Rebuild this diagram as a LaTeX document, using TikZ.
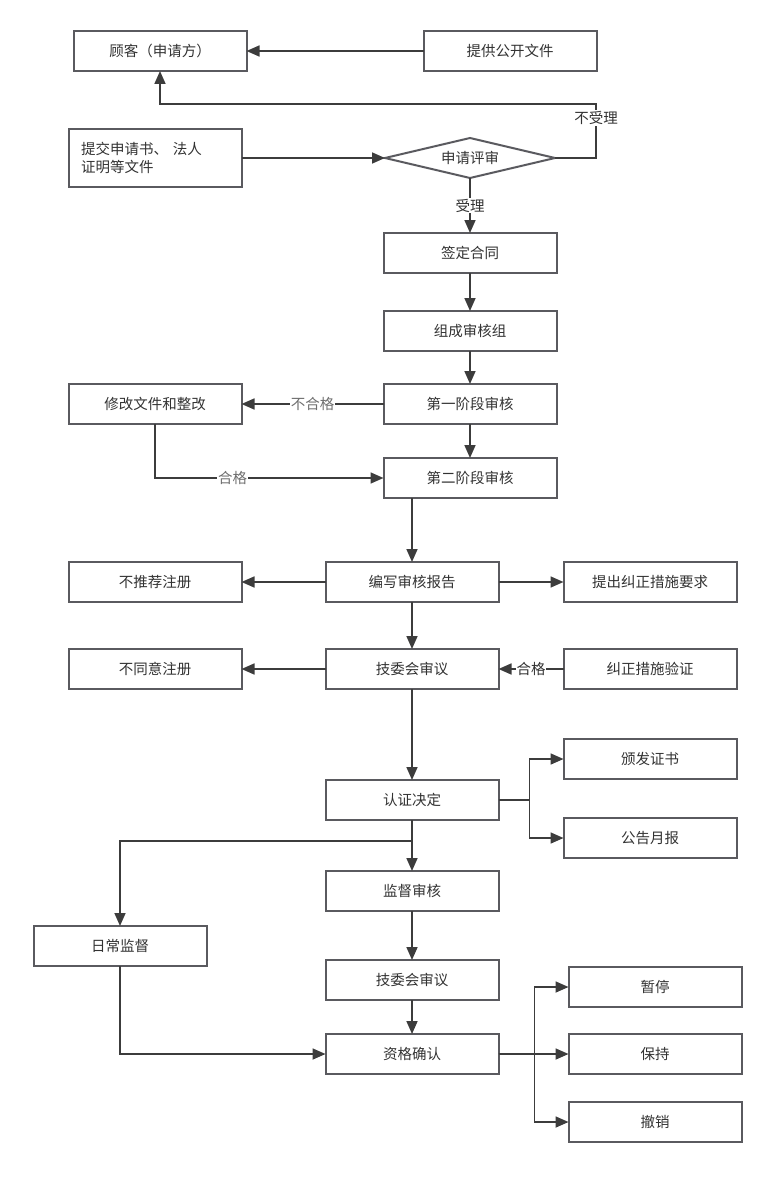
\documentclass[tikz,border=0pt]{standalone}
\usepackage{fontspec}
\usepackage{tikz}
\usetikzlibrary{arrows.meta,positioning,shapes.geometric}
\newfontfamily\cjk{Noto Sans CJK SC}
\definecolor{linegray}{RGB}{60,60,60}
\definecolor{boxgray} {RGB}{90,90,95}
\definecolor{textgray}{RGB}{50,50,50}
\definecolor{labelgray}{RGB}{110,110,110}

\begin{document}
\begin{tikzpicture}[
    x=1pt, y=-1pt,
    node distance=38pt and 65pt,
    every node/.style={font=\cjk\fontsize{14.5}{18}\selectfont, text=textgray},
    stage/.style={draw=boxgray, rectangle, line width=2pt, outer sep=0pt, minimum width=173pt, minimum height=40pt, inner sep=2pt, align=center},
    decision/.style={draw=boxgray, diamond, line width=2pt, outer sep=0pt, aspect=4.2, minimum width=170pt, minimum height=40pt, inner sep=0pt},
    arrow/.style={-{Triangle[length=13pt,width=11pt]}, line width=1.7pt, draw=linegray},
    tag/.style={fill=white, inner sep=1pt}
]
    \useasboundingbox (0,0) rectangle (774,1177);

    % application
    \node[stage] (client) at (160,51) {顾客（申请方）};
    \node[stage] (pubdoc) [right=177pt of client] {提供公开文件};
    \node[decision] (review) at (470,158) {申请评审};
    \node[stage, minimum height=58pt, text width=149pt, inner xsep=12pt, align=left] (submit) [left=143pt of review] {提交申请书、 法人\\证明等文件};
    \coordinate (rejturn) at (596,104);

    % audit column
    \node[stage] (sign) [below=55pt of review] {签定合同};
    \node[stage] (team) [below=of sign] {组成审核组};
    \node[stage] (stage1) [below=33pt of team] {第一阶段审核};
    \node[stage] (revise) [left=142pt of stage1] {修改文件和整改};
    \node[stage] (stage2) [below=34pt of stage1] {第二阶段审核};

    % report and decision
    \node[stage] (report) at (412,582) {编写审核报告};
    \node[stage] (norec) [left=84pt of report] {不推荐注册};
    \node[stage] (corrreq) [right=of report] {提出纠正措施要求};
    \node[stage] (board1) [below=47pt of report] {技委会审议};
    \node[stage] (noagree) [left=84pt of board1] {不同意注册};
    \node[stage] (verify) [right=of board1] {纠正措施验证};
    \node[stage] (decide) [below=91pt of board1] {认证决定};
    \node[stage] (issue) [right=of decide, yshift=41pt] {颁发证书};
    \node[stage] (notice) [right=of decide, yshift=-38pt] {公告月报};

    % surveillance
    \node[stage] (superv) [below=51pt of decide] {监督审核};
    \node[stage] (daily) at (120,946) {日常监督};
    \node[stage] (board2) [below=49pt of superv] {技委会审议};
    \node[stage] (qualify) [below=34pt of board2] {资格确认};
    \node[stage] (keep) [right=70pt of qualify] {保持};
    \node[stage] (pause) [above=27pt of keep] {暂停};
    \node[stage] (revoke) [below=28pt of keep] {撤销};

    \draw[arrow] (pubdoc) -- (client);
    \draw[arrow] (submit) -- (review);
    \draw[arrow] (review.east) -| node[tag, pos=0.87] {不受理} (rejturn) -| (client.south);
    \draw[arrow] (review) -- node[tag] {受理} (sign);
    \draw[arrow] (sign) -- (team);
    \draw[arrow] (team) -- (stage1);
    \draw[arrow] (stage1) -- (stage2);
    \draw[arrow] (stage1) -- node[tag, text=labelgray] {不合格} (revise);
    \draw[arrow] (revise.south) |- node[tag, pos=0.67, text=labelgray] {合格} (stage2.west);
    \draw[arrow] (report.north |- stage2.south) -- (report.north);

    \draw[arrow] (report) -- (norec);
    \draw[arrow] (report) -- (corrreq);
    \draw[arrow] (report) -- (board1);
    \draw[arrow] (verify) -- node[tag, inner sep=0.5pt] {合格} (board1);
    \draw[arrow] (board1) -- (noagree);
    \draw[arrow] (board1) -- (decide);
    \draw[arrow] (decide.east) -- ++(31,0) |- (issue.west);
    \draw[arrow] (decide.east) -- ++(31,0) |- (notice.west);

    \draw[arrow] (decide) -- (superv);
    \draw[arrow] (decide.south) ++(0,21) -| (daily.north);
    \draw[arrow] (superv) -- (board2);
    \draw[arrow] (board2) -- (qualify);
    \draw[arrow] (daily.south) |- (qualify.west);
    \draw[arrow] (qualify) -- (keep);
    \draw[arrow] (qualify.east) -- ++(36,0) |- (pause.west);
    \draw[arrow] (qualify.east) -- ++(36,0) |- (revoke.west);
\end{tikzpicture}
\end{document}
